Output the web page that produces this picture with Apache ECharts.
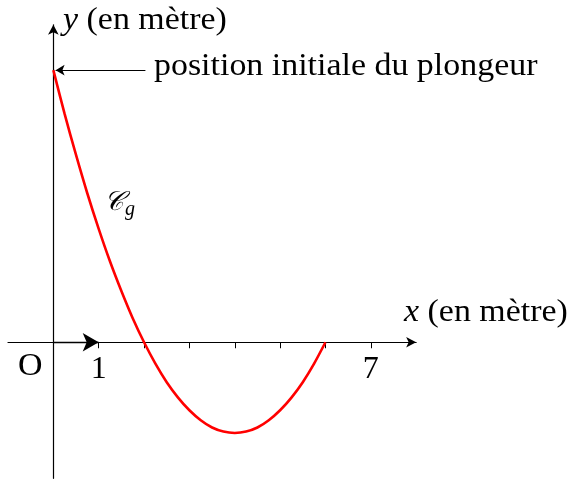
<!DOCTYPE html>
<html>
<head>
<meta charset="utf-8">
<script src="https://cdn.jsdelivr.net/npm/echarts@6/dist/echarts.min.js"></script>
<style>
  html, body { margin: 0; padding: 0; background: #fff; }
  #chart { width: 576px; height: 481px; }
</style>
</head>
<body>
<div id="chart"></div>
<script>
// Axis extents (metres)
const xRange = [-1, 8];
const yRange = [-3, 7];
// Graduations on the x axis and the ones that carry a label
const xTicks = [1, 2, 3, 4, 5, 6, 7];
const xLabelled = [1, 7];

// Trajectory of the diver: abscissa / height (metres)
const curveX = [0, 0.25, 0.5, 0.75, 1, 1.25, 1.5, 1.75, 2, 2.25, 2.5, 2.75, 3,
                3.25, 3.5, 3.75, 4, 4.25, 4.5, 4.75, 5, 5.25, 5.5, 5.75, 6];
const curveY = [6, 5.03, 4.13, 3.28, 2.5, 1.78, 1.13, 0.53, 0, -0.47, -0.88, -1.22, -1.5,
                -1.72, -1.88, -1.97, -2, -1.97, -1.88, -1.72, -1.5, -1.22, -0.88, -0.47, 0];

// Starting point of the dive and the unit vector on the x axis
const startPoint = [0, 6];
const unitVector = [[0, 0], [1, 0]];

const FONT = '"Liberation Serif", "DejaVu Serif", serif';
const SIZE = 32;
const STRETCH = 1.06;

const chart = echarts.init(document.getElementById('chart'), null, { renderer: 'canvas' });

// plain text block placed by its top-left corner, slightly widened
function note(x, y, text, rich) {
  return {
    type: 'text', x: x, y: y, scaleX: STRETCH, z: 10,
    style: { text: text, fill: '#000', font: SIZE + 'px ' + FONT, rich: rich,
             align: 'left', verticalAlign: 'top' }
  };
}
const italicVar = { i: { fontStyle: 'italic', fontFamily: FONT, fontSize: SIZE } };

chart.setOption({
  animation: false,
  backgroundColor: '#fff',
  grid: { left: 8, top: 24.8, width: 408.15, height: 453.5,
          containLabel: false, outerBoundsMode: 'none' },
  xAxis: {
    type: 'value',
    min: xRange[0], max: xRange[1], interval: 1,
    splitLine: { show: false },
    axisLine: { onZero: true, symbol: ['none', 'arrow'], symbolSize: [8, 10],
                lineStyle: { color: '#000', width: 1.2 } },
    axisTick: { show: true, customValues: xTicks, length: 6, inside: false,
                lineStyle: { color: '#000', width: 1 } },
    axisLabel: { show: false }
  },
  yAxis: {
    type: 'value',
    min: yRange[0], max: yRange[1], interval: 1,
    splitLine: { show: false },
    axisLine: { onZero: true, symbol: ['none', 'arrow'], symbolSize: [8, 10],
                lineStyle: { color: '#000', width: 1.2 } },
    axisTick: { show: false },
    axisLabel: { show: false }
  },
  series: [
    {
      type: 'line',
      data: curveX.map((x, i) => [x, curveY[i]]),
      smooth: 0.3,
      symbol: 'none',
      lineStyle: { color: '#ff0000', width: 2.6 },
      z: 5,
      markLine: {
        silent: true,
        animation: false,
        label: { show: false },
        data: [
          [
            { coord: [2.03, startPoint[1]], symbol: 'none',
              lineStyle: { color: '#000', width: 1.1, type: 'solid' } },
            { coord: [startPoint[0] + 0.05, startPoint[1]], symbol: 'arrow', symbolSize: [8, 9] }
          ],
          [
            { coord: unitVector[0], symbol: 'none',
              lineStyle: { color: '#000', width: 1.3, type: 'solid' } },
            { coord: unitVector[1], symbol: 'arrow', symbolSize: [14, 16] }
          ]
        ]
      }
    },
    {
      // graduation labels written under the x axis
      type: 'scatter',
      data: xLabelled.map(v => [v, 0]),
      symbolSize: 0,
      silent: true,
      itemStyle: { opacity: 1 },
      label: {
        show: true, position: 'bottom', distance: 11, opacity: 1,
        formatter: p => String(p.value[0]),
        color: '#000', fontFamily: FONT, fontSize: SIZE
      }
    }
  ],
  graphic: [
    note(18, 351, 'O'),
    note(63, 5, '{i|y} (en mètre)', italicVar),
    note(404, 297, '{i|x} (en mètre)', italicVar),
    note(154, 51, 'position initiale du plongeur'),
    {
      type: 'text', x: 104, y: 186, z: 10,
      style: {
        text: '{c|𝒞}{g|g}', fill: '#000', align: 'left', verticalAlign: 'top',
        rich: {
          c: { fontFamily: '"DejaVu Serif", "DejaVu Sans", serif', fontStyle: 'italic', fontSize: 27 },
          g: { fontFamily: FONT, fontStyle: 'italic', fontSize: 20, padding: [14, 0, 0, 1] }
        }
      }
    }
  ]
});
</script>
</body>
</html>
